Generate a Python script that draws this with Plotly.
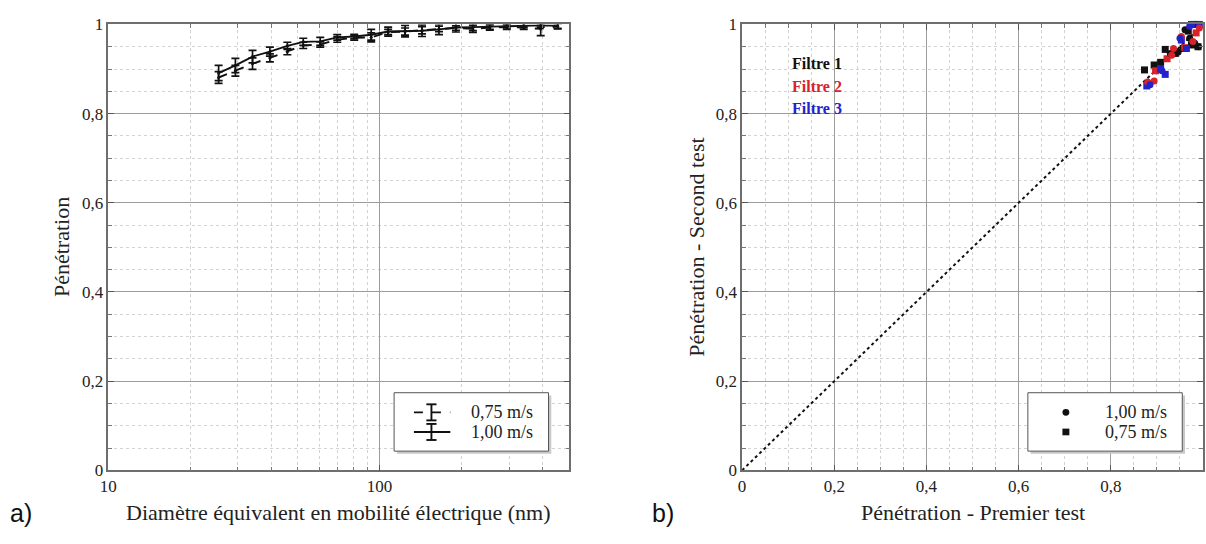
import math
import plotly.graph_objects as go

# ---------------- data: panel a) penetration vs mobility diameter ----------------
diametre_nm = [25.5, 29.4, 34.0, 39.4, 45.7, 52.3, 60.4, 69.8, 80.6, 93.1, 107.5,
               124.1, 143.3, 165.5, 191.1, 220.7, 254.8, 294.3, 339.8, 392.4, 453.2]
pen_100 = [0.891, 0.908, 0.928, 0.939, 0.952, 0.961, 0.962, 0.971, 0.973, 0.977, 0.984,
           0.985, 0.986, 0.989, 0.993, 0.994, 0.995, 0.997, 0.998, 0.998, 0.997]
err_100 = [0.017, 0.016, 0.014, 0.010, 0.008, 0.008, 0.009, 0.006, 0.005, 0.012, 0.010,
           0.013, 0.013, 0.012, 0.010, 0.008, 0.006, 0.005, 0.005, 0.004, 0.006]
pen_075 = [0.881, 0.896, 0.912, 0.925, 0.939, 0.953, 0.955, 0.966, 0.970, 0.971, 0.983,
           0.984, 0.987, 0.990, 0.992, 0.990, 0.993, 0.994, 0.993, 0.990, 0.996]
err_075 = [0.013, 0.012, 0.013, 0.009, 0.007, 0.007, 0.006, 0.006, 0.005, 0.010, 0.006,
           0.008, 0.008, 0.006, 0.005, 0.008, 0.006, 0.005, 0.004, 0.015, 0.006]

# ---------------- data: panel b) repeatability, first vs second test ----------------
f1_100_x = [0.929, 0.946, 0.971, 0.982, 0.961, 0.990]
f1_100_y = [0.935, 0.938, 0.969, 0.958, 0.988, 0.950]
f1_075_x = [0.873, 0.894, 0.908, 0.918, 0.957, 0.968, 0.975, 0.989, 0.982, 0.940]
f1_075_y = [0.898, 0.909, 0.915, 0.944, 0.946, 0.985, 0.954, 0.950, 1.000, 0.935]
f2_100_x = [0.880, 0.894, 0.932, 0.936, 0.953, 0.992, 0.978]
f2_100_y = [0.871, 0.873, 0.931, 0.946, 0.973, 0.992, 0.962]
f2_075_x = [0.897, 0.922, 0.985, 0.960]
f2_075_y = [0.896, 0.923, 0.981, 0.948]
f3_100_x = [0.885, 0.911, 0.950, 0.971]
f3_100_y = [0.865, 0.896, 0.969, 0.996]
f3_075_x = [0.878, 0.908, 0.918, 0.964, 0.953, 0.975, 0.992]
f3_075_y = [0.862, 0.900, 0.888, 0.946, 0.965, 1.000, 1.000]
diag = [0, 1]

y_ticks = [0, 0.2, 0.4, 0.6, 0.8, 1]
y_ticktext = ["0", "0,2", "0,4", "0,6", "0,8", "1"]
x_log_ticks = [10, 100]
x_log_minor = [20, 30, 40, 50, 60, 70, 80, 90, 200, 300, 400]

W, H = 1206, 544
SERIF = "Liberation Serif"
SANS = "Liberation Sans"
BLACK = "#111111"
RED = "#d8232a"
BLUE = "#2323c8"

fig = go.Figure()

# panel a) curves with error bars
fig.add_trace(go.Scatter(
    x=diametre_nm, y=pen_075, name="0,75 m/s", mode="lines+markers",
    line=dict(color=BLACK, width=1.9, dash="dash"),
    marker=dict(size=3, color=BLACK),
    error_y=dict(type="data", array=err_075, color=BLACK, thickness=1.7, width=4),
    xaxis="x", yaxis="y", showlegend=False))
fig.add_trace(go.Scatter(
    x=diametre_nm, y=pen_100, name="1,00 m/s", mode="lines+markers",
    line=dict(color=BLACK, width=1.9),
    marker=dict(size=3, color=BLACK),
    error_y=dict(type="data", array=err_100, color=BLACK, thickness=1.7, width=4),
    xaxis="x", yaxis="y", showlegend=False))

# panel b) identity line and scatter
fig.add_trace(go.Scatter(x=diag, y=diag, mode="lines",
                         line=dict(color=BLACK, width=2, dash="dot"),
                         xaxis="x2", yaxis="y2", showlegend=False, hoverinfo="skip"))
series_b = [
    ("Filtre 1 - 0,75 m/s", f1_075_x, f1_075_y, BLACK, "square"),
    ("Filtre 2 - 0,75 m/s", f2_075_x, f2_075_y, RED, "square"),
    ("Filtre 3 - 0,75 m/s", f3_075_x, f3_075_y, BLUE, "square"),
    ("Filtre 1 - 1,00 m/s", f1_100_x, f1_100_y, BLACK, "circle"),
    ("Filtre 2 - 1,00 m/s", f2_100_x, f2_100_y, RED, "circle"),
    ("Filtre 3 - 1,00 m/s", f3_100_x, f3_100_y, BLUE, "circle"),
]
for name, xs, ys, col, sym in series_b:
    fig.add_trace(go.Scatter(x=xs, y=ys, name=name, mode="markers",
                             marker=dict(color=col, symbol=sym, size=7,
                                         line=dict(width=0)),
                             xaxis="x2", yaxis="y2", showlegend=False,
                             cliponaxis=False))

# plot areas in pixels
L1, R1 = 101, 565
L2, R2 = 739, 1203
TOP, BOT = 16, 478
px = lambda v: v / W
py = lambda v: 1 - v / H

tickfont = dict(family=SERIF, size=17, color="#222")
common_axis = dict(
    showline=True, linecolor="#6e6e6e", linewidth=1.5, mirror="ticks",
    ticks="inside", ticklen=6, tickcolor="#555", tickwidth=1,
    gridcolor="#9c9c9c", gridwidth=1, zeroline=False, tickfont=tickfont,
)
minor_common = dict(showgrid=True, gridcolor="#d2d2d2", griddash="dot",
                    ticks="inside", ticklen=4, tickcolor="#777", gridwidth=1)

fig.update_layout(
    width=W, height=H, margin=dict(l=0, r=0, t=0, b=0),
    paper_bgcolor="white", plot_bgcolor="white", showlegend=False,
    xaxis=dict(common_axis, type="log", domain=[px(L1), px(R1)],
               range=[1, math.log10(500)], tickvals=x_log_ticks,
               ticktext=[str(v) for v in x_log_ticks],
               minor=dict(minor_common, tickvals=x_log_minor),
               anchor="y"),
    yaxis=dict(common_axis, domain=[py(BOT), py(TOP)], range=[0, 1],
               tickvals=y_ticks, ticktext=y_ticktext,
               minor=dict(minor_common, dtick=0.05), anchor="x"),
    xaxis2=dict(common_axis, domain=[px(L2), px(R2)], range=[0, 1],
                tickvals=y_ticks, ticktext=y_ticktext,
                minor=dict(minor_common, dtick=0.05), anchor="y2"),
    yaxis2=dict(common_axis, domain=[py(BOT), py(TOP)], range=[0, 1],
                tickvals=y_ticks, ticktext=y_ticktext,
                minor=dict(minor_common, dtick=0.05), anchor="x2"),
)

shapes = []
annotations = []

# ---- legend boxes (axis-domain coordinates) ----
def legend_box(xr, yr):
    x0, x1, y0, y1 = 0.62, 0.955, 0.043, 0.174
    # soft shadow, then framed box
    shapes.append(dict(type="rect", xref=xr, yref=yr, x0=x0 + 0.006, x1=x1 + 0.006,
                       y0=y0 - 0.006, y1=y1 - 0.006, fillcolor="#c8c8c8",
                       line=dict(width=0), layer="above"))
    shapes.append(dict(type="rect", xref=xr, yref=yr, x0=x0, x1=x1, y0=y0, y1=y1,
                       fillcolor="white", line=dict(color="#555", width=1),
                       layer="above"))

legend_box("x domain", "y domain")
legend_box("x2 domain", "y2 domain")

legend_font = dict(family=SERIF, size=18, color="#222")

# legend glyphs for panel a): line + error-bar beam
for yc, dash, label in [(0.130, "dash", "0,75 m/s"), (0.086, "solid", "1,00 m/s")]:
    shapes.append(dict(type="line", xref="x domain", yref="y domain",
                       x0=0.663, x1=0.742, y0=yc, y1=yc,
                       line=dict(color=BLACK, width=1.9, dash=dash), layer="above"))
    shapes.append(dict(type="line", xref="x domain", yref="y domain",
                       x0=0.701, x1=0.701, y0=yc - 0.018, y1=yc + 0.018,
                       line=dict(color=BLACK, width=1.9), layer="above"))
    for ye in (yc - 0.018, yc + 0.018):
        shapes.append(dict(type="line", xref="x domain", yref="y domain",
                           x0=0.690, x1=0.712, y0=ye, y1=ye,
                           line=dict(color=BLACK, width=1.9), layer="above"))
    annotations.append(dict(text=label, xref="x domain", yref="y domain",
                            x=0.782, y=yc, xanchor="left", yanchor="middle",
                            showarrow=False, font=legend_font))

# legend glyphs for panel b): circle and square
for yc, kind, label in [(0.130, "circle", "1,00 m/s"), (0.086, "rect", "0,75 m/s")]:
    h = 0.0075
    shapes.append(dict(type=kind, xref="x2 domain", yref="y2 domain",
                       x0=0.7025 - h, x1=0.7025 + h, y0=yc - h, y1=yc + h,
                       fillcolor=BLACK, line=dict(width=0), layer="above"))
    annotations.append(dict(text=label, xref="x2 domain", yref="y2 domain",
                            x=0.782, y=yc, xanchor="left", yanchor="middle",
                            showarrow=False, font=legend_font))

# filter colour key
for yc, col, label in [(0.912, BLACK, "Filtre 1"), (0.861, RED, "Filtre 2"),
                       (0.811, BLUE, "Filtre 3")]:
    annotations.append(dict(text="<b>%s</b>" % label, xref="x2", yref="y2",
                            x=0.104, y=yc, xanchor="left", yanchor="middle",
                            showarrow=False, font=dict(family=SERIF, size=16, color=col)))

# axis titles
title_font = dict(family=SERIF, size=22, color="#222")
annotations += [
    dict(text="Pénétration", x=px(54), y=py(247), xref="paper", yref="paper",
         textangle=-90, showarrow=False, font=title_font,
         xanchor="center", yanchor="middle"),
    dict(text="Pénétration - Second test", x=px(693), y=py(247), xref="paper",
         yref="paper", textangle=-90, showarrow=False, font=title_font,
         xanchor="center", yanchor="middle"),
    dict(text="Diamètre équivalent en mobilité électrique (nm)", x=px(333), y=py(522),
         xref="paper", yref="paper", showarrow=False, font=title_font,
         xanchor="center", yanchor="middle"),
    dict(text="Pénétration - Premier test", x=px(971), y=py(522), xref="paper",
         yref="paper", showarrow=False, font=title_font,
         xanchor="center", yanchor="middle"),
    dict(text="a)", x=px(0), y=py(522), xref="paper", yref="paper", showarrow=False,
         font=dict(family=SANS, size=25, color="#111"), xanchor="left", yanchor="middle"),
    dict(text="b)", x=px(646), y=py(522), xref="paper", yref="paper", showarrow=False,
         font=dict(family=SANS, size=25, color="#111"), xanchor="left", yanchor="middle"),
]

fig.update_layout(shapes=shapes, annotations=annotations)
fig.write_html("out.html")
